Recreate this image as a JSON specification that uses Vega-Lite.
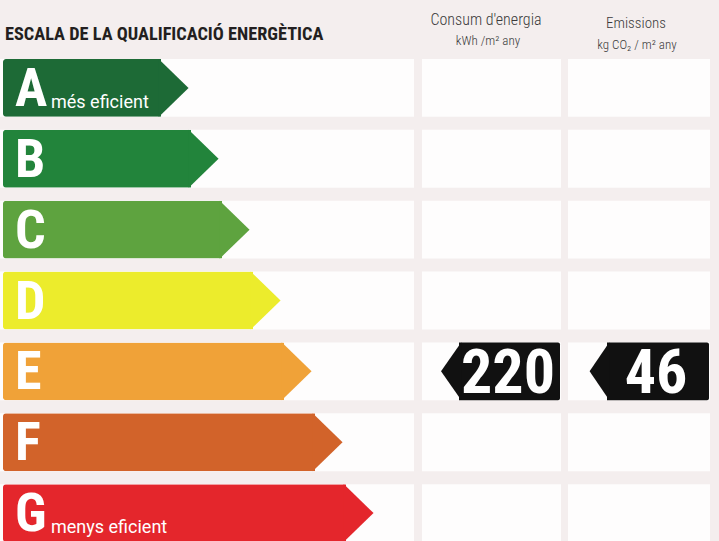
{
  "$schema": "https://vega.github.io/schema/vega-lite/v6.json",
  "background": "#f4eeee",
  "padding": 0,
  "spacing": 0,
  "config": {"view": {"stroke": null}, "concat": {"spacing": 0}},
  "datasets": {
    "ratings": [
      {"rating": "A", "end": 158, "desc": "més eficient"},
      {"rating": "B", "end": 188, "desc": ""},
      {"rating": "C", "end": 219, "desc": ""},
      {"rating": "D", "end": 250, "desc": ""},
      {"rating": "E", "end": 281, "desc": ""},
      {"rating": "F", "end": 312, "desc": ""},
      {"rating": "G", "end": 343, "desc": "menys eficient"}
    ],
    "certificate": [{"rating": "E", "consum": 220, "emissions": 46}],
    "header": [
      {"title": "ESCALA DE LA QUALIFICACIÓ ENERGÈTICA", "c1": "Consum d'energia", "c1u": "kWh /m² any", "c2": "Emissions", "c2u": "kg CO₂ / m² any"}
    ]
  },
  "vconcat": [
    {
      "width": 719,
      "height": 58,
      "data": {"name": "header"},
      "layer": [
        {
          "mark": {"type": "text", "align": "left", "baseline": "alphabetic", "dy": 11, "font": "Roboto Condensed, Noto Sans Condensed, Liberation Sans Narrow, DejaVu Sans Condensed", "fontWeight": "bold", "fontSize": 18.3, "color": "#231f20"},
          "encoding": {
            "x": {"datum": 5, "type": "quantitative", "scale": {"domain": [0, 719], "nice": false, "zero": false}, "axis": null},
            "text": {"field": "title", "type": "nominal"}
          }
        },
        {
          "mark": {"type": "text", "align": "center", "baseline": "alphabetic", "dy": -4, "font": "Roboto Condensed, Noto Sans Condensed, Liberation Sans Narrow, DejaVu Sans Condensed", "fontWeight": 300, "fontSize": 16, "color": "#3a3a3a"},
          "encoding": {"x": {"datum": 486, "type": "quantitative"}, "text": {"field": "c1", "type": "nominal"}}
        },
        {
          "mark": {"type": "text", "align": "center", "baseline": "alphabetic", "dy": 16, "font": "Roboto Condensed, Noto Sans Condensed, Liberation Sans Narrow, DejaVu Sans Condensed", "fontWeight": 300, "fontSize": 13, "color": "#3a3a3a"},
          "encoding": {"x": {"datum": 488, "type": "quantitative"}, "text": {"field": "c1u", "type": "nominal"}}
        },
        {
          "mark": {"type": "text", "align": "center", "baseline": "alphabetic", "dy": -1, "font": "Roboto Condensed, Noto Sans Condensed, Liberation Sans Narrow, DejaVu Sans Condensed", "fontWeight": 300, "fontSize": 15, "color": "#3a3a3a"},
          "encoding": {"x": {"datum": 636, "type": "quantitative"}, "text": {"field": "c2", "type": "nominal"}}
        },
        {
          "mark": {"type": "text", "align": "center", "baseline": "alphabetic", "dy": 20, "font": "Roboto Condensed, Noto Sans Condensed, Liberation Sans Narrow, DejaVu Sans Condensed", "fontWeight": 300, "fontSize": 13, "color": "#3a3a3a"},
          "encoding": {"x": {"datum": 637, "type": "quantitative"}, "text": {"field": "c2u", "type": "nominal"}}
        }
      ]
    },
    {
      "width": 719,
      "height": 483,
      "data": {"name": "ratings"},
      "layer": [
        {
          "mark": {"type": "rect", "color": "#fefdfd", "opacity": 1},
          "encoding": {
            "y": {"field": "rating", "type": "nominal", "scale": {"type": "band", "domain": ["A", "B", "C", "D", "E", "F", "G"], "paddingInner": 0.185, "paddingOuter": 0}, "axis": null},
            "x": {"datum": -3, "type": "quantitative", "scale": {"domain": [-3, 716], "nice": false, "zero": false}, "axis": null},
            "x2": {"datum": 411}
          }
        },
        {
          "mark": {"type": "rect", "color": "#fefdfd", "opacity": 1},
          "encoding": {"y": {"field": "rating", "type": "nominal"}, "x": {"datum": 419, "type": "quantitative"}, "x2": {"datum": 558}}
        },
        {
          "mark": {"type": "rect", "color": "#fefdfd", "opacity": 1},
          "encoding": {"y": {"field": "rating", "type": "nominal"}, "x": {"datum": 565, "type": "quantitative"}, "x2": {"datum": 707}}
        },
        {
          "mark": {"type": "bar", "opacity": 1, "cornerRadiusTopLeft": 3, "cornerRadiusBottomLeft": 3},
          "encoding": {
            "y": {"field": "rating", "type": "nominal"},
            "x": {"field": "end", "type": "quantitative"},
            "color": {"field": "rating", "type": "nominal", "scale": {"domain": ["A", "B", "C", "D", "E", "F", "G"], "range": ["#1d6a36", "#22843b", "#5ea33f", "#ecec2c", "#f0a238", "#d2632a", "#e4262c"]}, "legend": null}
          }
        },
        {
          "mark": {"type": "point", "shape": "M-0.08,-1L0.95,0L-0.08,1Z", "size": 3364, "filled": true, "opacity": 1, "strokeWidth": 0},
          "encoding": {
            "y": {"field": "rating", "type": "nominal"},
            "x": {"field": "end", "type": "quantitative"},
            "color": {"field": "rating", "type": "nominal", "legend": null}
          }
        },
        {
          "mark": {"type": "text", "align": "left", "baseline": "middle", "dy": 2, "font": "Roboto Condensed, Noto Sans Condensed, Liberation Sans Narrow, DejaVu Sans Condensed", "fontWeight": "bold", "fontSize": 54, "color": "#ffffff"},
          "encoding": {"y": {"field": "rating", "type": "nominal"}, "x": {"datum": 12, "type": "quantitative"}, "text": {"field": "rating", "type": "nominal"}}
        },
        {
          "transform": [{"filter": "datum.desc != ''"}],
          "mark": {"type": "text", "align": "left", "baseline": "alphabetic", "dy": 20, "font": "Roboto, Liberation Sans, Arial", "fontSize": 18, "color": "#ffffff"},
          "encoding": {"y": {"field": "rating", "type": "nominal"}, "x": {"datum": 48, "type": "quantitative"}, "text": {"field": "desc", "type": "nominal"}}
        },
        {
          "data": {"name": "certificate"},
          "mark": {"type": "rect", "color": "#111111", "opacity": 1, "cornerRadiusTopRight": 2, "cornerRadiusBottomRight": 2},
          "encoding": {"y": {"field": "rating", "type": "nominal"}, "x": {"datum": 456, "type": "quantitative"}, "x2": {"datum": 557}}
        },
        {
          "data": {"name": "certificate"},
          "mark": {"type": "point", "shape": "M0.08,-1L-0.62,0L0.08,1Z", "size": 3364, "filled": true, "opacity": 1, "strokeWidth": 0, "color": "#111111"},
          "encoding": {"y": {"field": "rating", "type": "nominal"}, "x": {"datum": 456, "type": "quantitative"}}
        },
        {
          "data": {"name": "certificate"},
          "mark": {"type": "text", "align": "center", "baseline": "middle", "dy": 3, "font": "Roboto Condensed, Noto Sans Condensed, Liberation Sans Narrow, DejaVu Sans Condensed", "fontWeight": "bold", "fontSize": 62, "color": "#ffffff"},
          "encoding": {"y": {"field": "rating", "type": "nominal"}, "x": {"datum": 505, "type": "quantitative"}, "text": {"field": "consum", "type": "quantitative"}}
        },
        {
          "data": {"name": "certificate"},
          "mark": {"type": "rect", "color": "#111111", "opacity": 1, "cornerRadiusTopRight": 2, "cornerRadiusBottomRight": 2},
          "encoding": {"y": {"field": "rating", "type": "nominal"}, "x": {"datum": 604, "type": "quantitative"}, "x2": {"datum": 706}}
        },
        {
          "data": {"name": "certificate"},
          "mark": {"type": "point", "shape": "M0.08,-1L-0.6,0L0.08,1Z", "size": 3364, "filled": true, "opacity": 1, "strokeWidth": 0, "color": "#111111"},
          "encoding": {"y": {"field": "rating", "type": "nominal"}, "x": {"datum": 604, "type": "quantitative"}}
        },
        {
          "data": {"name": "certificate"},
          "mark": {"type": "text", "align": "center", "baseline": "middle", "dy": 3, "font": "Roboto Condensed, Noto Sans Condensed, Liberation Sans Narrow, DejaVu Sans Condensed", "fontWeight": "bold", "fontSize": 62, "color": "#ffffff"},
          "encoding": {"y": {"field": "rating", "type": "nominal"}, "x": {"datum": 653, "type": "quantitative"}, "text": {"field": "emissions", "type": "quantitative"}}
        }
      ]
    }
  ]
}
